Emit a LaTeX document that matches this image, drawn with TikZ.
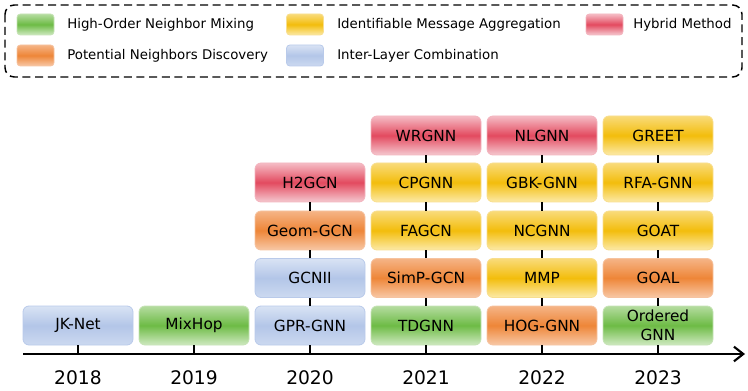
\documentclass[tikz,border=0pt]{standalone}
\usepackage{fontspec}
\setmainfont{DejaVu Sans}
\usetikzlibrary{arrows.meta}
\definecolor{yelT}{HTML}{F9DB7A}
\definecolor{yelM}{HTML}{F3BD0C}
\definecolor{yelB}{HTML}{FCEAA8}
\definecolor{yelD}{HTML}{F8DE8E}
\definecolor{redT}{HTML}{F5BCC5}
\definecolor{redM}{HTML}{E34A5F}
\definecolor{redB}{HTML}{F5C9D0}
\definecolor{redD}{HTML}{F3B4BE}
\definecolor{oraT}{HTML}{F5B486}
\definecolor{oraM}{HTML}{EE8638}
\definecolor{oraB}{HTML}{F8C8A6}
\definecolor{oraD}{HTML}{F6C3A0}
\definecolor{greT}{HTML}{B5DCA0}
\definecolor{greM}{HTML}{6DBB45}
\definecolor{greB}{HTML}{CFE9C1}
\definecolor{greD}{HTML}{C5E3B5}
\definecolor{bluT}{HTML}{D9E3F4}
\definecolor{bluM}{HTML}{B3C6E8}
\definecolor{bluB}{HTML}{CCD9F0}
\definecolor{bluD}{HTML}{B9CAEA}
\tikzset{
  box/.style={rounded corners=4.5pt, minimum width=82.5pt, minimum height=29.25pt,
    inner sep=1pt, align=center, line width=0.6pt, font=\fontsize{11.5}{14}\selectfont},
  swatch/.style={rounded corners=2.5pt, minimum width=27.75pt, minimum height=15.75pt,
    inner sep=0pt, line width=0.6pt},
  yel/.style={draw=yelD, top color=yelT, bottom color=yelB, middle color=yelM},
  red/.style={draw=redD, top color=redT, bottom color=redB, middle color=redM},
  ora/.style={draw=oraD, top color=oraT, bottom color=oraB, middle color=oraM},
  gre/.style={draw=greD, top color=greT, bottom color=greB, middle color=greM},
  blu/.style={draw=bluD, top color=bluT, bottom color=bluB, middle color=bluM},
  legtext/.style={anchor=west, inner sep=0pt, font=\fontsize{10}{12}\selectfont},
  year/.style={font=\fontsize{14}{16}\selectfont, inner sep=0pt},
  link/.style={line width=1.5pt},
  axisline/.style={line width=1.6pt, -{Straight Barb[length=7pt,width=11pt,line width=1.6pt]}},
}
\begin{document}
\begin{tikzpicture}[x=0.75pt, y=-0.75pt]
\useasboundingbox (0,0) rectangle (748,391);
% legend
\draw[dash pattern=on 6pt off 3.5pt, line width=1.1pt, rounded corners=7pt] (5,5) rectangle (742,77);
\node[swatch, gre] (sw1) at (35.5,24.5) {};
\node[legtext] (lt1) at (67,25) {High-Order Neighbor Mixing};
\node[swatch, ora] (sw2) at (35.5,55.5) {};
\node[legtext] (lt2) at (67,56) {Potential Neighbors Discovery};
\node[swatch, yel] (sw3) at (305,24.5) {};
\node[legtext] (lt3) at (337,25) {Identifiable Message Aggregation};
\node[swatch, blu] (sw4) at (305,55.5) {};
\node[legtext] (lt4) at (337,56) {Inter-Layer Combination};
\node[swatch, red] (sw5) at (604.5,24.5) {};
\node[legtext] (lt5) at (633,25) {Hybrid Method};
% axis
\coordinate (axL) at (23,354);
\coordinate (axR) at (745,354);
\draw[axisline] (axL) -- (axR);
% row positions
\def\ra{325.5}\def\rb{278}\def\rc{230.5}\def\rd{182.5}\def\re{135.5}
% 2018
\node[box, blu] (a1) at (78,\ra) {JK-Net};
% 2019
\node[box, gre] (b1) at (194,\ra) {MixHop};
% 2020
\node[box, blu] (c1) at (310,\ra) {GPR-GNN};
\node[box, blu] (c2) at (310,\rb) {GCNII};
\node[box, ora] (c3) at (310,\rc) {Geom-GCN};
\node[box, red] (c4) at (310,\rd) {H2GCN};
% 2021
\node[box, gre] (d1) at (426,\ra) {TDGNN};
\node[box, ora] (d2) at (426,\rb) {SimP-GCN};
\node[box, yel] (d3) at (426,\rc) {FAGCN};
\node[box, yel] (d4) at (426,\rd) {CPGNN};
\node[box, red] (d5) at (426,\re) {WRGNN};
% 2022
\node[box, ora] (e1) at (542,\ra) {HOG-GNN};
\node[box, yel] (e2) at (542,\rb) {MMP};
\node[box, yel] (e3) at (542,\rc) {NCGNN};
\node[box, yel] (e4) at (542,\rd) {GBK-GNN};
\node[box, red] (e5) at (542,\re) {NLGNN};
% 2023
\node[box, gre, font=\fontsize{11.5}{14.5}\selectfont] (f1) at (658,\ra) {Ordered\\GNN};
\node[box, ora] (f2) at (658,\rb) {GOAL};
\node[box, yel] (f3) at (658,\rc) {GOAT};
\node[box, yel] (f4) at (658,\rd) {RFA-GNN};
\node[box, yel] (f5) at (658,\re) {GREET};
% ticks on axis
\coordinate (ta) at (78,354);
\coordinate (tb) at (194,354);
\coordinate (tc) at (310,354);
\coordinate (td) at (426,354);
\coordinate (te) at (542,354);
\coordinate (tf) at (658,354);
\foreach \c in {a,b,c,d,e,f}{\draw[link] (\c1.south) -- (t\c);}
\draw[link] (c1) -- (c2); \draw[link] (c2) -- (c3); \draw[link] (c3) -- (c4);
\foreach \c in {d,e,f}{
  \draw[link] (\c1) -- (\c2); \draw[link] (\c2) -- (\c3);
  \draw[link] (\c3) -- (\c4); \draw[link] (\c4) -- (\c5);
}
% years
\node[year] (y18) at (78,378) {2018};
\node[year] (y19) at (194,378) {2019};
\node[year] (y20) at (310,378) {2020};
\node[year] (y21) at (426,378) {2021};
\node[year] (y22) at (542,378) {2022};
\node[year] (y23) at (658,378) {2023};
\end{tikzpicture}
\end{document}
